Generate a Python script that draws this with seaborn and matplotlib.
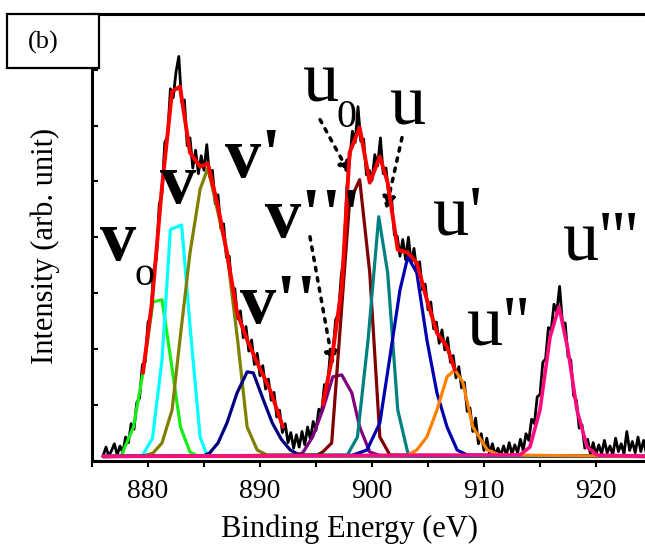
import matplotlib
matplotlib.use("Agg")
import matplotlib.pyplot as plt
import seaborn as sns
import numpy as np
from matplotlib.patches import Rectangle
from matplotlib.ticker import MultipleLocator

# measured Ce 3d spectrum, 0.25 eV steps from 876 to 925 eV
energy = np.arange(876.0, 925.01, 0.25)
counts = [
    45, 120, 40, 90, 150, 50, 130, 70,
    210, 160, 330, 280, 520, 560, 860, 880,
    1240, 1290, 1700, 1810, 2290, 2400, 2850, 2900,
    3330, 3250, 3480, 3620, 3210, 3230, 2820, 2890,
    2620, 2780, 2570, 2730, 2600, 2830, 2540, 2600,
    2300, 2380, 2080, 2120, 1820, 1830, 1520, 1540,
    1270, 1340, 1100, 1200, 980, 1080, 860, 960,
    760, 850, 640, 730, 540, 610, 390, 450,
    250, 330, 160, 250, 110, 230, 120, 260,
    140, 300, 190, 350, 270, 460, 430, 680,
    650, 930, 960, 1260, 1310, 1650, 1840, 2440,
    2700, 2950, 2850, 3170, 2860, 2880, 2560, 2600,
    2510, 2740, 2640, 2890, 2570, 2620, 2370, 2340,
    2020, 2010, 1830, 1980, 1800, 2000, 1770, 1900,
    1700, 1780, 1530, 1580, 1350, 1420, 1180, 1240,
    1050, 1170, 990, 1100, 880, 940, 740, 840,
    650, 700, 440, 470, 260, 380, 150, 240,
    90, 200, 60, 150, 50, 110, 45, 130,
    50, 160, 60, 140, 70, 190, 90, 240,
    180, 370, 330, 570, 590, 880, 910, 1190,
    1170, 1400, 1330, 1560, 1240, 1230, 930, 900,
    580, 540, 290, 320, 110, 190, 60, 160,
    50, 140, 60, 180, 70, 130, 50, 200,
    80, 150, 60, 260, 90, 170, 70, 210,
    80, 180, 60, 150, 90,
]

# fit envelope, 3d5/2 and 3d3/2 parts
fit_v_e = [879.55, 880.35, 881.25, 882.15, 882.85, 883.75, 884.65, 885.35, 886.25,
           887.05, 887.95, 888.85, 889.75, 890.9, 892.05]
fit_v_i = [785, 1413, 2453, 3305, 3350, 2758, 2633, 2660, 2274,
           1861, 1323, 1081, 875, 632, 300]
fit_u_e = [895.6, 896.4, 897.3, 898.0, 898.9, 899.8, 900.7, 901.4, 902.3, 903.2,
           904.0, 904.9, 905.8, 906.7, 907.4]
fit_u_i = [500, 900, 1556, 2758, 2982, 2489, 2722, 2489, 1888, 1861,
           1771, 1440, 1143, 1018, 812]

# fitted components (peak vertices, baseline at both ends)
v0_e = [876, 877.6, 878.7, 879.55, 880.45, 881.25, 882.1, 882.9, 883.75, 884.5, 925]
v0_i = [36, 40, 300, 785, 1420, 1440, 860, 300, 76, 36, 36]

v_e = [876, 879.5, 880.4, 881.25, 882.0, 883.0, 883.8, 884.65, 885.3, 925]
v_i = [36, 45, 200, 900, 2070, 2110, 1150, 210, 40, 36]

v1_e = [876, 879.6, 880.45, 881.25, 882.15, 882.85, 883.75, 884.65, 885.35, 886.25,
        887.05, 888.0, 888.85, 889.75, 890.6, 925]
v1_i = [36, 40, 67, 157, 453, 1080, 1860, 2430, 2620, 2220,
        1860, 1080, 300, 94, 49, 36]

v2_e = [876, 884.9, 885.5, 886.25, 887.05, 887.95, 888.85, 889.4, 890.3, 891.1,
        891.9, 892.7, 893.6, 925]
v2_i = [36, 40, 67, 157, 336, 605, 794, 785, 543, 336, 190, 94, 45, 36]

v3_e = [876, 892.7, 893.8, 894.7, 895.6, 896.5, 897.3, 898.2, 898.9, 899.8, 900.7, 925]
v3_i = [36, 40, 67, 211, 453, 750, 767, 605, 300, 76, 45, 36]

u0_e = [876, 895.1, 895.6, 896.4, 897.3, 898.0, 898.9, 899.8, 900.7, 901.6, 925]
u0_i = [36, 49, 76, 157, 1377, 2320, 2516, 1682, 211, 49, 36]

u_e = [876, 897.8, 898.7, 899.65, 900.6, 901.4, 902.3, 903.2, 904.0, 925]
u_i = [36, 49, 211, 1081, 2184, 1682, 453, 67, 40, 36]

u1_e = [876, 898.2, 899.55, 900.7, 901.6, 902.5, 903.2, 904.0, 904.9, 905.8,
        906.7, 907.6, 908.5, 925]
u1_i = [36, 45, 94, 336, 928, 1529, 1825, 1682, 1081, 605, 300, 94, 49, 36]

u2_e = [876, 903.1, 904.0, 904.9, 905.8, 906.7, 907.4, 908.1, 909.0, 910.3, 911.4, 925]
u2_i = [36, 45, 94, 211, 453, 750, 812, 704, 300, 94, 49, 36]

u3_e = [876, 913.2, 914.1, 915.0, 915.9, 916.7, 917.5, 918.3, 919.2, 920.1, 925]
u3_i = [36, 49, 121, 453, 1108, 1377, 991, 453, 121, 49, 36]

components = [
    (v0_e, v0_i, "#18ee18"),
    (v_e, v_i, "#00ffff"),
    (v1_e, v1_i, "#808000"),
    (v2_e, v2_i, "#000080"),
    (v3_e, v3_i, "#800080"),
    (u0_e, u0_i, "#800000"),
    (u_e, u_i, "#008080"),
    (u1_e, u1_i, "#0000b0"),
    (u2_e, u2_i, "#ff8000"),
]

sns.set_theme(style="ticks")
plt.rcParams["font.family"] = ["Liberation Serif", "DejaVu Serif"]
plt.rcParams["text.color"] = "black"
plt.rcParams["axes.labelcolor"] = "black"
plt.rcParams["xtick.color"] = "black"
plt.rcParams["ytick.color"] = "black"

fig = plt.figure(figsize=(6.45, 5.46), dpi=100)
ax = fig.add_axes([92 / 645, 85.5 / 546, 560 / 645, 446.5 / 546])

sns.lineplot(x=energy, y=counts, ax=ax, color="black", lw=2.0, zorder=2)
for e, i, c in components:
    sns.lineplot(x=e, y=i, ax=ax, color=c, lw=2.3, zorder=3)
sns.lineplot(x=fit_v_e, y=fit_v_i, ax=ax, color="#ff0000", lw=2.8, zorder=4)
sns.lineplot(x=fit_u_e, y=fit_u_i, ax=ax, color="#ff0000", lw=2.8, zorder=4)
sns.lineplot(x=u3_e, y=u3_i, ax=ax, color="#ff0a80", lw=2.6, zorder=5)

ax.set_xlim(875, 925)
ax.set_ylim(0, 4000)
ax.xaxis.set_major_locator(MultipleLocator(10))
ax.xaxis.set_minor_locator(MultipleLocator(5))
ax.yaxis.set_major_locator(MultipleLocator(500))
ax.tick_params(axis="x", which="both", direction="out", length=4.5, width=1.5,
               labelsize=20, pad=9)
ax.tick_params(axis="y", which="major", direction="in", length=4, width=1.5,
               labelleft=False)
ax.spines["right"].set_visible(False)
for s in ["left", "top", "bottom"]:
    ax.spines[s].set_linewidth(2.2)
    ax.spines[s].set_color("black")

ax.set_xlabel("Binding Energy (eV)", fontsize=22)
ax.set_ylabel("Intensity (arb. unit)", fontsize=22)
ax.xaxis.set_label_coords(0.4607, -0.122)
ax.yaxis.set_label_coords(-0.057, 0.48)

# peak labels
big = dict(fontsize=52, color="black", zorder=6)
sub = dict(fontsize=29, color="black", zorder=6)
ax.text(875.71, 1798, "v", fontweight="bold", **big)
ax.text(878.75, 1574, "o", **sub)
ax.text(881.07, 2310, "v", fontweight="bold", **big)
ax.text(886.88, 2543, "v'", fontweight="bold", **big)
ax.text(888.21, 1233, "v''", fontweight="bold", **big)
ax.text(890.45, 2005, "v'''", fontweight="bold", **big)
ax.text(893.84, 3216, "u", **big)
ax.text(896.8, 2992, "0", **sub)
ax.text(901.61, 3009, "u", **big)
ax.text(905.45, 2023, "u'", **big)
ax.text(908.48, 1036, "u''", **big)
ax.text(917.05, 1798, "u'''", **big)

arrow = dict(arrowstyle="-|>,head_length=0.6,head_width=0.3", linestyle=(0, (1, 2)),
             lw=2.5, color="black", shrinkA=0, shrinkB=0)
ax.annotate("", xy=(898.04, 2561), xytext=(895.36, 3054), arrowprops=arrow)
ax.annotate("", xy=(901.25, 2247), xytext=(902.68, 2893), arrowprops=arrow)
ax.annotate("", xy=(896.52, 857), xytext=(894.46, 2005), arrowprops=arrow)

# panel tag
fig.patches.append(Rectangle((7 / 645, 1 - 68 / 546), 92 / 645, 54 / 546,
                             transform=fig.transFigure, facecolor="white",
                             edgecolor="black", lw=1.6, zorder=5))
fig.text(43 / 645, 1 - 42 / 546, "(b)", fontsize=19, ha="center", va="center", zorder=6)

fig.savefig("out.png", dpi=100)
